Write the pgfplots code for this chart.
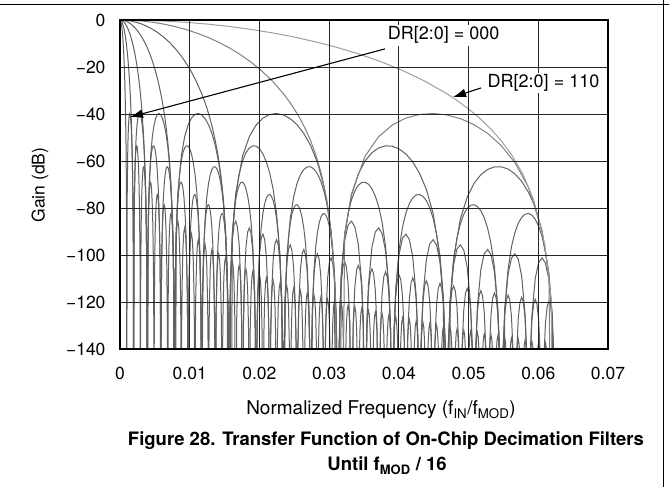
\documentclass[border=0pt]{standalone}
\usepackage{fontspec}
\setmainfont{TeX Gyre Heros}
\usepackage{pgfplots}
\pgfplotsset{compat=1.18}
\usepackage{pgfplotstable}
\usetikzlibrary{arrows.meta}
\definecolor{cA}{gray}{0.62}
\definecolor{cB}{gray}{0.50}
\definecolor{cC}{gray}{0.38}
% normalized sinc^3 response: u = f_IN/f_MOD * N, g = gain in dB
\pgfplotstableread[row sep=\\]{
u g \\
0 0 \\ 0.05 -0.107 \\ 0.1 -0.430 \\ 0.15 -0.972 \\ 0.2 -1.738 \\ 0.25 -2.736 \\ 0.3 -3.979 \\ 0.35 -5.480 \\ 0.4 -7.260 \\ 0.45 -9.344 \\
0.5 -11.767 \\ 0.55 -14.574 \\ 0.6 -17.826 \\ 0.65 -21.611 \\ 0.7 -26.057 \\ 0.75 -31.363 \\ 0.775 -34.43 \\ 0.8 -37.862 \\ 0.825 -41.73 \\
0.85 -46.172 \\ 0.875 -51.38 \\ 0.9 -57.685 \\ 0.925 -65.71 \\ 0.95 -76.834 \\ 0.975 -95.49 \\ 0.99 -119.74 \\ 1 -400 \\
1.03125 -91.15 \\ 1.0625 -74.00 \\ 1.125 -57.93 \\ 1.1875 -49.63 \\ 1.25 -44.67 \\ 1.3125 -41.73 \\ 1.375 -40.19 \\ 1.4375 -39.79 \\ 1.5 -40.40 \\
1.5625 -41.97 \\ 1.625 -44.54 \\ 1.6875 -48.27 \\ 1.75 -53.44 \\ 1.8125 -60.65 \\ 1.875 -71.24 \\ 1.9375 -89.65 \\ 1.96875 -108.00 \\ 2 -400 \\
2.03125 -108.81 \\ 2.0625 -91.28 \\ 2.125 -74.50 \\ 2.1875 -65.55 \\ 2.25 -59.99 \\ 2.3125 -56.48 \\ 2.375 -54.43 \\ 2.4375 -53.56 \\ 2.5 -53.71 \\
2.5625 -54.86 \\ 2.625 -57.04 \\ 2.6875 -60.40 \\ 2.75 -65.22 \\ 2.8125 -72.10 \\ 2.875 -82.38 \\ 2.9375 -100.50 \\ 2.96875 -118.70 \\ 3 -400 \\
3.03125 -119.25 \\ 3.0625 -101.58 \\ 3.125 -84.55 \\ 3.1875 -75.36 \\ 3.25 -69.57 \\ 3.3125 -65.85 \\ 3.375 -63.59 \\ 3.4375 -62.51 \\ 3.5 -62.47 \\
3.5625 -63.44 \\ 3.625 -65.45 \\ 3.6875 -68.64 \\ 3.75 -73.30 \\ 3.8125 -79.51 \\ 3.875 -90.16 \\ 3.9375 -108.13 \\ 3.96875 -126.27 \\ 4 -400 \\
4.03125 -126.68 \\ 4.0625 -108.95 \\ 4.125 -91.79 \\ 4.1875 -82.47 \\ 4.25 -76.56 \\ 4.3125 -72.72 \\ 4.375 -70.35 \\ 4.4375 -69.17 \\ 4.5 -69.02 \\
4.5625 -69.89 \\ 4.625 -71.80 \\ 4.6875 -74.90 \\ 4.75 -79.46 \\ 4.8125 -86.09 \\ 4.875 -96.14 \\ 4.9375 -114.03 \\ 4.96875 -132.12 \\ 5 -400 \\
5.03125 -132.55 \\ 5.0625 -114.77 \\ 5.125 -97.50 \\ 5.1875 -88.09 \\ 5.25 -82.10 \\ 5.3125 -78.17 \\ 5.375 -75.72 \\ 5.4375 -74.46 \\ 5.5 -74.25 \\
5.5625 -75.06 \\ 5.625 -76.90 \\ 5.6875 -79.95 \\ 5.75 -84.46 \\ 5.8125 -91.05 \\ 5.875 -101.06 \\ 5.9375 -118.91 \\ 5.96875 -136.99 \\ 6 -400 \\
6.03125 -137.24 \\ 6.0625 -119.44 \\ 6.125 -102.13 \\ 6.1875 -92.67 \\ 6.25 -86.63 \\ 6.3125 -82.66 \\ 6.375 -80.16 \\ 6.4375 -78.86 \\ 6.5 -78.60 \\
6.5625 -79.36 \\ 6.625 -81.16 \\ 6.6875 -84.16 \\ 6.75 -88.63 \\ 6.8125 -95.17 \\ 6.875 -105.13 \\ 6.9375 -122.94 \\ 6.96875 -141.00 \\ 7 -400 \\
7.0625 -123.41 \\ 7.125 -106.07 \\ 7.1875 -96.57 \\ 7.25 -90.50 \\ 7.3125 -86.50 \\ 7.375 -83.97 \\ 7.4375 -82.63 \\ 7.5 -82.34 \\
7.5625 -83.07 \\ 7.625 -84.83 \\ 7.6875 -87.80 \\ 7.75 -92.24 \\ 7.8125 -98.75 \\ 7.875 -108.67 \\ 7.9375 -126.45 \\ 8 -400 \\
8.0625 -126.85 \\ 8.125 -109.48 \\ 8.25 -93.86 \\ 8.375 -87.28 \\ 8.5 -85.60 \\ 8.625 -88.04 \\ 8.75 -95.40 \\ 8.875 -111.78 \\ 8.9375 -129.53 \\ 9 -400 \\
9.0625 -129.88 \\ 9.125 -112.49 \\ 9.25 -96.83 \\ 9.375 -90.21 \\ 9.5 -88.49 \\ 9.625 -90.89 \\ 9.75 -98.21 \\ 9.875 -114.55 \\ 9.9375 -132.28 \\ 10 -400 \\
10.0625 -132.60 \\ 10.125 -115.20 \\ 10.25 -99.51 \\ 10.375 -92.85 \\ 10.5 -91.10 \\ 10.625 -93.47 \\ 10.75 -100.75 \\ 10.875 -117.06 \\ 10.9375 -134.78 \\ 11 -400 \\
11.0625 -135.07 \\ 11.125 -117.65 \\ 11.25 -101.93 \\ 11.375 -95.25 \\ 11.5 -93.47 \\ 11.625 -95.81 \\ 11.75 -103.07 \\ 11.875 -119.35 \\ 11.9375 -137.05 \\ 12 -400 \\
12.0625 -137.32 \\ 12.125 -119.89 \\ 12.25 -104.15 \\ 12.375 -97.44 \\ 12.5 -95.64 \\ 12.625 -97.96 \\ 12.75 -105.19 \\ 12.875 -121.45 \\ 12.9375 -139.14 \\ 13 -400 \\
13.0625 -139.40 \\ 13.125 -121.96 \\ 13.25 -106.20 \\ 13.375 -99.47 \\ 13.5 -97.65 \\ 13.625 -99.95 \\ 13.75 -107.16 \\ 13.875 -123.40 \\ 13.9375 -141.08 \\ 14 -400 \\
14.0625 -141.31 \\ 14.125 -123.87 \\ 14.25 -108.09 \\ 14.375 -101.35 \\ 14.5 -99.51 \\ 14.625 -101.79 \\ 14.75 -108.99 \\ 14.875 -125.21 \\ 14.9375 -142.89 \\ 15 -400 \\
15.0625 -143.10 \\ 15.125 -125.65 \\ 15.25 -109.86 \\ 15.375 -103.10 \\ 15.5 -101.25 \\ 15.625 -103.52 \\ 15.75 -110.70 \\ 15.875 -126.91 \\ 15.9375 -144.58 \\ 16 -400 \\
16.125 -127.91 \\ 16.25 -111.91 \\ 16.375 -104.94 \\ 16.5 -102.88 \\ 16.625 -104.94 \\ 16.75 -111.91 \\ 16.875 -127.91 \\ 17 -400 \\
17.125 -129.44 \\ 17.25 -113.44 \\ 17.375 -106.47 \\ 17.5 -104.41 \\ 17.625 -106.47 \\ 17.75 -113.44 \\ 17.875 -129.44 \\ 18 -400 \\
18.125 -130.89 \\ 18.25 -114.89 \\ 18.375 -107.92 \\ 18.5 -105.86 \\ 18.625 -107.92 \\ 18.75 -114.89 \\ 18.875 -130.89 \\ 19 -400 \\
19.125 -132.26 \\ 19.25 -116.26 \\ 19.375 -109.29 \\ 19.5 -107.23 \\ 19.625 -109.29 \\ 19.75 -116.26 \\ 19.875 -132.26 \\ 20 -400 \\
20.125 -133.57 \\ 20.25 -117.57 \\ 20.375 -110.60 \\ 20.5 -108.54 \\ 20.625 -110.60 \\ 20.75 -117.57 \\ 20.875 -133.57 \\ 21 -400 \\
21.125 -134.81 \\ 21.25 -118.81 \\ 21.375 -111.84 \\ 21.5 -109.78 \\ 21.625 -111.84 \\ 21.75 -118.81 \\ 21.875 -134.81 \\ 22 -400 \\
22.125 -135.99 \\ 22.25 -119.99 \\ 22.375 -113.02 \\ 22.5 -110.96 \\ 22.625 -113.02 \\ 22.75 -119.99 \\ 22.875 -135.99 \\ 23 -400 \\
23.125 -137.13 \\ 23.25 -121.13 \\ 23.375 -114.16 \\ 23.5 -112.10 \\ 23.625 -114.16 \\ 23.75 -121.13 \\ 23.875 -137.13 \\ 24 -400 \\
24.125 -138.21 \\ 24.25 -122.21 \\ 24.375 -115.24 \\ 24.5 -113.18 \\ 24.625 -115.24 \\ 24.75 -122.21 \\ 24.875 -138.21 \\ 25 -400 \\
25.125 -139.25 \\ 25.25 -123.25 \\ 25.375 -116.28 \\ 25.5 -114.22 \\ 25.625 -116.28 \\ 25.75 -123.25 \\ 25.875 -139.25 \\ 26 -400 \\
26.125 -140.25 \\ 26.25 -124.25 \\ 26.375 -117.28 \\ 26.5 -115.22 \\ 26.625 -117.28 \\ 26.75 -124.25 \\ 26.875 -140.25 \\ 27 -400 \\
27.125 -141.22 \\ 27.25 -125.22 \\ 27.375 -118.25 \\ 27.5 -116.19 \\ 27.625 -118.25 \\ 27.75 -125.22 \\ 27.875 -141.22 \\ 28 -400 \\
28.125 -142.15 \\ 28.25 -126.15 \\ 28.375 -119.18 \\ 28.5 -117.12 \\ 28.625 -119.18 \\ 28.75 -126.15 \\ 28.875 -142.15 \\ 29 -400 \\
29.125 -143.05 \\ 29.25 -127.05 \\ 29.375 -120.08 \\ 29.5 -118.02 \\ 29.625 -120.08 \\ 29.75 -127.05 \\ 29.875 -143.05 \\ 30 -400 \\
30.125 -143.92 \\ 30.25 -127.92 \\ 30.375 -120.95 \\ 30.5 -118.89 \\ 30.625 -120.95 \\ 30.75 -127.92 \\ 30.875 -143.92 \\ 31 -400 \\
31.125 -144.76 \\ 31.25 -128.76 \\ 31.375 -121.79 \\ 31.5 -119.73 \\ 31.625 -121.79 \\ 31.75 -128.76 \\ 31.875 -144.76 \\ 32 -400 \\
32.125 -145.57 \\ 32.25 -129.57 \\ 32.375 -122.60 \\ 32.5 -120.54 \\ 32.625 -122.60 \\ 32.75 -129.57 \\ 32.875 -145.57 \\ 33 -400 \\
33.125 -146.36 \\ 33.25 -130.36 \\ 33.375 -123.39 \\ 33.5 -121.33 \\ 33.625 -123.39 \\ 33.75 -130.36 \\ 33.875 -146.36 \\ 34 -400 \\
34.125 -147.13 \\ 34.25 -131.13 \\ 34.375 -124.16 \\ 34.5 -122.10 \\ 34.625 -124.16 \\ 34.75 -131.13 \\ 34.875 -147.13 \\ 35 -400 \\
35.125 -147.87 \\ 35.25 -131.87 \\ 35.375 -124.90 \\ 35.5 -122.84 \\ 35.625 -124.90 \\ 35.75 -131.87 \\ 35.875 -147.87 \\ 36 -400 \\
36.125 -148.60 \\ 36.25 -132.60 \\ 36.375 -125.63 \\ 36.5 -123.57 \\ 36.625 -125.63 \\ 36.75 -132.60 \\ 36.875 -148.60 \\ 37 -400 \\
37.125 -149.30 \\ 37.25 -133.30 \\ 37.375 -126.33 \\ 37.5 -124.27 \\ 37.625 -126.33 \\ 37.75 -133.30 \\ 37.875 -149.30 \\ 38 -400 \\
38.125 -149.99 \\ 38.25 -133.99 \\ 38.375 -127.02 \\ 38.5 -124.96 \\ 38.625 -127.02 \\ 38.75 -133.99 \\ 38.875 -149.99 \\ 39 -400 \\
39.125 -150.66 \\ 39.25 -134.66 \\ 39.375 -127.69 \\ 39.5 -125.63 \\ 39.625 -127.69 \\ 39.75 -134.66 \\ 39.875 -150.66 \\ 40 -400 \\
40.125 -151.31 \\ 40.25 -135.31 \\ 40.375 -128.34 \\ 40.5 -126.28 \\ 40.625 -128.34 \\ 40.75 -135.31 \\ 40.875 -151.31 \\ 41 -400 \\
41.125 -151.94 \\ 41.25 -135.94 \\ 41.375 -128.97 \\ 41.5 -126.91 \\ 41.625 -128.97 \\ 41.75 -135.94 \\ 41.875 -151.94 \\ 42 -400 \\
42.125 -152.56 \\ 42.25 -136.56 \\ 42.375 -129.59 \\ 42.5 -127.53 \\ 42.625 -129.59 \\ 42.75 -136.56 \\ 42.875 -152.56 \\ 43 -400 \\
43.125 -153.17 \\ 43.25 -137.17 \\ 43.375 -130.20 \\ 43.5 -128.14 \\ 43.625 -130.20 \\ 43.75 -137.17 \\ 43.875 -153.17 \\ 44 -400 \\
44.125 -153.76 \\ 44.25 -137.76 \\ 44.375 -130.79 \\ 44.5 -128.73 \\ 44.625 -130.79 \\ 44.75 -137.76 \\ 44.875 -153.76 \\ 45 -400 \\
45.125 -154.34 \\ 45.25 -138.34 \\ 45.375 -131.37 \\ 45.5 -129.31 \\ 45.625 -131.37 \\ 45.75 -138.34 \\ 45.875 -154.34 \\ 46 -400 \\
46.125 -154.91 \\ 46.25 -138.91 \\ 46.375 -131.94 \\ 46.5 -129.88 \\ 46.625 -131.94 \\ 46.75 -138.91 \\ 46.875 -154.91 \\ 47 -400 \\
47.125 -155.46 \\ 47.25 -139.46 \\ 47.375 -132.49 \\ 47.5 -130.43 \\ 47.625 -132.49 \\ 47.75 -139.46 \\ 47.875 -155.46 \\ 48 -400 \\
48.125 -156.00 \\ 48.25 -140.00 \\ 48.375 -133.03 \\ 48.5 -130.97 \\ 48.625 -133.03 \\ 48.75 -140.00 \\ 48.875 -156.00 \\ 49 -400 \\
49.125 -156.54 \\ 49.25 -140.54 \\ 49.375 -133.57 \\ 49.5 -131.51 \\ 49.625 -133.57 \\ 49.75 -140.54 \\ 49.875 -156.54 \\ 50 -400 \\
50.125 -157.06 \\ 50.25 -141.06 \\ 50.375 -134.09 \\ 50.5 -132.03 \\ 50.625 -134.09 \\ 50.75 -141.06 \\ 50.875 -157.06 \\ 51 -400 \\
51.125 -157.57 \\ 51.25 -141.57 \\ 51.375 -134.60 \\ 51.5 -132.54 \\ 51.625 -134.60 \\ 51.75 -141.57 \\ 51.875 -157.57 \\ 52 -400 \\
52.125 -158.07 \\ 52.25 -142.07 \\ 52.375 -135.10 \\ 52.5 -133.04 \\ 52.625 -135.10 \\ 52.75 -142.07 \\ 52.875 -158.07 \\ 53 -400 \\
53.125 -158.56 \\ 53.25 -142.56 \\ 53.375 -135.59 \\ 53.5 -133.53 \\ 53.625 -135.59 \\ 53.75 -142.56 \\ 53.875 -158.56 \\ 54 -400 \\
54.125 -159.04 \\ 54.25 -143.04 \\ 54.375 -136.07 \\ 54.5 -134.01 \\ 54.625 -136.07 \\ 54.75 -143.04 \\ 54.875 -159.04 \\ 55 -400 \\
55.125 -159.52 \\ 55.25 -143.52 \\ 55.375 -136.55 \\ 55.5 -134.49 \\ 55.625 -136.55 \\ 55.75 -143.52 \\ 55.875 -159.52 \\ 56 -400 \\
56.125 -159.98 \\ 56.25 -143.98 \\ 56.375 -137.01 \\ 56.5 -134.95 \\ 56.625 -137.01 \\ 56.75 -143.98 \\ 56.875 -159.98 \\ 57 -400 \\
57.125 -160.44 \\ 57.25 -144.44 \\ 57.375 -137.47 \\ 57.5 -135.41 \\ 57.625 -137.47 \\ 57.75 -144.44 \\ 57.875 -160.44 \\ 58 -400 \\
58.125 -160.89 \\ 58.25 -144.89 \\ 58.375 -137.92 \\ 58.5 -135.86 \\ 58.625 -137.92 \\ 58.75 -144.89 \\ 58.875 -160.89 \\ 59 -400 \\
59.125 -161.33 \\ 59.25 -145.33 \\ 59.375 -138.36 \\ 59.5 -136.30 \\ 59.625 -138.36 \\ 59.75 -145.33 \\ 59.875 -161.33 \\ 60 -400 \\
60.125 -161.77 \\ 60.25 -145.77 \\ 60.375 -138.80 \\ 60.5 -136.74 \\ 60.625 -138.80 \\ 60.75 -145.77 \\ 60.875 -161.77 \\ 61 -400 \\
61.125 -162.19 \\ 61.25 -146.19 \\ 61.375 -139.22 \\ 61.5 -137.16 \\ 61.625 -139.22 \\ 61.75 -146.19 \\ 61.875 -162.19 \\ 62 -400 \\
62.125 -162.61 \\ 62.25 -146.61 \\ 62.375 -139.64 \\ 62.5 -137.58 \\ 62.625 -139.64 \\ 62.75 -146.61 \\ 62.875 -162.61 \\ 63 -400 \\
63.125 -163.03 \\ 63.25 -147.03 \\ 63.375 -140.06 \\ 63.5 -138.00 \\ 63.625 -140.06 \\ 63.75 -147.03 \\ 63.875 -163.03 \\ 64 -400 \\
}\gaintab

\begin{document}
\begin{tikzpicture}[x=1pt,y=1pt]
\useasboundingbox (0,0) rectangle (669,487);
\draw[line width=1.4pt] (0,482.5) -- (669,482.5);
\draw[line width=1.4pt] (663.5,0) -- (663.5,487);
\begin{axis}[
  at={(120pt,138pt)}, anchor=south west,
  scale only axis, width=488pt, height=329pt,
  xmin=0, xmax=0.07, ymin=-140, ymax=0,
  scaled x ticks=false, scaled y ticks=false,
  xtick={0,0.01,0.02,0.03,0.04,0.05,0.06,0.07},
  xticklabels={0,0.01,0.02,0.03,0.04,0.05,0.06,0.07},
  ytick={-140,-120,-100,-80,-60,-40,-20,0},
  yticklabels={−140,−120,−100,−80,−60,−40,−20,0},
  major tick length=0pt,
  grid=major,
  major grid style={black!85, line width=0.9pt},
  axis line style={line width=2.6pt},
  axis on top,
  tick label style={font=\fontsize{17.5}{20}\selectfont},
  xticklabel style={yshift=-15pt},
  yticklabel style={xshift=-11pt},
  every axis plot/.append style={line width=1pt, no marks, restrict x to domain=0:0.06251},
]
\addplot[cC] table[x expr=\thisrow{u}/1024, y=g] {\gaintab};
\addplot[cC] table[x expr=\thisrow{u}/512, y=g] {\gaintab};
\addplot[cC] table[x expr=\thisrow{u}/256, y=g] {\gaintab};
\addplot[cC] table[x expr=\thisrow{u}/128, y=g] {\gaintab};
\addplot[cC] table[x expr=\thisrow{u}/64, y=g] {\gaintab};
\addplot[cB] table[x expr=\thisrow{u}/32, y=g] {\gaintab};
\addplot[cA] table[x expr=\thisrow{u}/16, y=g] {\gaintab};
\coordinate (t0) at (axis cs:0.04641,-6.4);
\coordinate (a0s) at (axis cs:0.0380,-12.3);
\coordinate (a0e) at (axis cs:0.00143,-41.3);
\coordinate (t1) at (axis cs:0.06075,-26.8);
\coordinate (a1s) at (axis cs:0.0518,-28.9);
\coordinate (a1e) at (axis cs:0.04777,-32.8);
\end{axis}
\draw[line width=1.1pt, -{Latex[length=13pt,width=9pt]}] (a0s) -- (a0e);
\draw[line width=1.1pt, -{Latex[length=13pt,width=9pt]}] (a1s) -- (a1e);
\node[fill=white, inner sep=2pt, font=\fontsize{18}{20}\selectfont] at (t0) {DR[2:0] = 000};
\node[fill=white, inner sep=2pt, font=\fontsize{18}{20}\selectfont] at (t1) {DR[2:0] = 110};
\node[rotate=90, font=\fontsize{17.5}{20}\selectfont] at (40,302) {Gain (dB)};
\node[font=\fontsize{19}{22}\selectfont] at (381,77) {Normalized Frequency (f\textsubscript{IN}/f\textsubscript{MOD})};
\node[font=\fontsize{18.5}{22}\selectfont\bfseries] at (386,46) {Figure 28. Transfer Function of On-Chip Decimation Filters};
\node[font=\fontsize{18.5}{22}\selectfont\bfseries] at (387,21) {Until f\textsubscript{MOD} / 16};
\end{tikzpicture}
\end{document}
